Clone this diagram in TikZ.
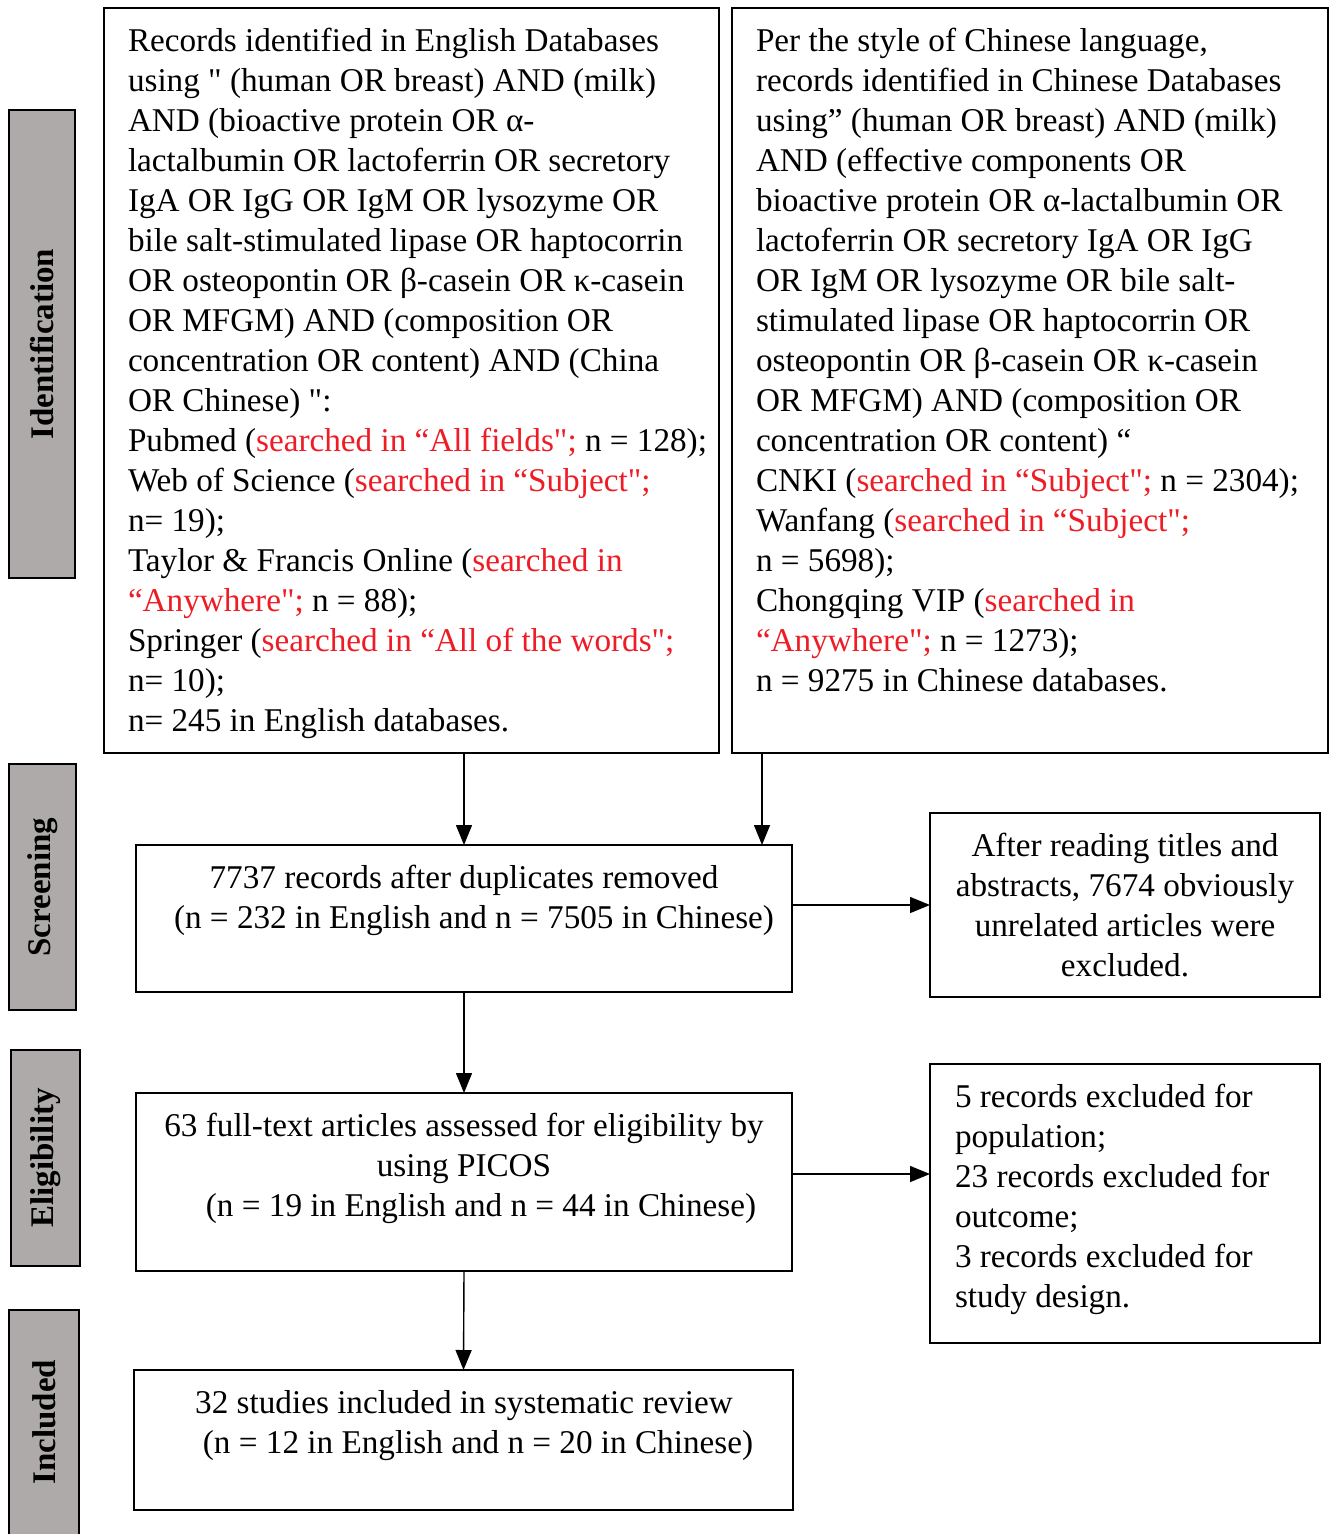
\documentclass[tikz,border=0pt]{standalone}
\usepackage{fontspec}
\setmainfont{Liberation Serif}[Ligatures=TeXOff]
\usetikzlibrary{arrows.meta}
\definecolor{redtxt}{HTML}{EE1C25}
\definecolor{lblgray}{HTML}{AEAAAA}
\newcommand{\rt}[1]{\textcolor{redtxt}{#1}}
\begin{document}
\begin{tikzpicture}[x=1pt,y=-1pt,
  box/.style={draw=black,line width=2pt,rectangle,inner sep=0pt,outer sep=0pt,anchor=north west},
  lbl/.style={draw=black,line width=2.2pt,fill=lblgray,rectangle,inner sep=0pt,outer sep=0pt,anchor=north west},
  lbltext/.style={rotate=90,font=\fontsize{33}{40}\selectfont\bfseries,inner sep=0pt},
  txt/.style={font=\fontsize{33.2}{40}\selectfont,inner sep=0pt,outer sep=0pt},
  arr/.style={line width=1.4pt,-{Triangle[length=20pt,width=16pt]}}
]
\useasboundingbox[fill=white] (0,0) rectangle (1330,1534);

% phase labels
\node[lbl,minimum width=66pt,minimum height=468pt] (lab1) at (9,110) {};
\node[lbl,minimum width=67pt,minimum height=246pt] (lab2) at (9,764) {};
\node[lbl,minimum width=69pt,minimum height=216pt] (lab3) at (11,1050) {};
\node[lbl,minimum width=70pt,minimum height=240pt] (lab4) at (9,1310) {};
\node[lbltext] (lab1t) at (lab1.center) {Identification};
\node[lbltext] (lab2t) at (lab2.center) {Screening};
\node[lbltext] (lab3t) at (lab3.center) {Eligibility};
\node[lbltext] (lab4t) at ([yshift=8pt]lab4.center) {Included};

% boxes
\node[box,minimum width=615pt,minimum height=745pt] (lid) at (104,8) {};
\node[box,minimum width=596pt,minimum height=745pt] (rid) at (732,8) {};
\node[box,minimum width=656pt,minimum height=147pt] (scr) at (136,845) {};
\node[box,minimum width=390pt,minimum height=184pt] (ex1) at (930,813) {};
\node[box,minimum width=656pt,minimum height=178pt] (elig) at (136,1093) {};
\node[box,minimum width=390pt,minimum height=279pt] (ex2) at (930,1064) {};
\node[box,minimum width=659pt,minimum height=140pt] (inc) at (134,1370) {};

% texts
\node[txt,anchor=north west,align=left] (lidt) at (128,23) {\strut Records identified in English Databases\\
using " (human OR breast) AND (milk)\\
AND (bioactive protein OR α-\\
lactalbumin OR lactoferrin OR secretory\\
IgA OR IgG OR IgM OR lysozyme OR\\
bile salt-stimulated lipase OR haptocorrin\\
OR osteopontin OR β-casein OR κ-casein\\
OR MFGM) AND (composition OR\\
concentration OR content) AND (China\\
OR Chinese) ":\\
Pubmed (\rt{searched in “All fields";} n = 128);\\
Web of Science (\rt{searched in “Subject";}\\
n= 19);\\
Taylor \& Francis Online (\rt{searched in}\\
\rt{“Anywhere";} n = 88);\\
Springer (\rt{searched in “All of the words";}\\
n= 10);\\
n= 245 in English databases.};

\node[txt,anchor=north west,align=left] (ridt) at (756,23) {\strut Per the style of Chinese language,\\
records identified in Chinese Databases\\
using” (human OR breast) AND (milk)\\
AND (effective components OR\\
bioactive protein OR α-lactalbumin OR\\
lactoferrin OR secretory IgA OR IgG\\
OR IgM OR lysozyme OR bile salt-\\
stimulated lipase OR haptocorrin OR\\
osteopontin OR β-casein OR κ-casein\\
OR MFGM) AND (composition OR\\
concentration OR content) “\\
CNKI (\rt{searched in “Subject";} n = 2304);\\
Wanfang (\rt{searched in “Subject";}\\
n = 5698);\\
Chongqing VIP (\rt{searched in}\\
\rt{“Anywhere";} n = 1273);\\
n = 9275 in Chinese databases.};

\node[txt,anchor=north,align=center] (scrt) at (464,860) {\strut 7737 records after duplicates removed\\
\hspace*{20pt}(n = 232 in English and n = 7505 in Chinese)};
\node[txt,anchor=north,align=center] (ex1t) at (1125,828) {\strut After reading titles and\\
abstracts, 7674 obviously\\
unrelated articles were\\
excluded.};
\node[txt,anchor=north,align=center] (eligt) at (464,1108) {\strut 63 full-text articles assessed for eligibility by\\
using PICOS\\
\hspace*{34pt}(n = 19 in English and n = 44 in Chinese)};
\node[txt,anchor=north west,align=left] (ex2t) at (955,1079) {\strut 5 records excluded for\\
population;\\
23 records excluded for\\
outcome;\\
3 records excluded for\\
study design.};
\node[txt,anchor=north,align=center] (inct) at (464,1385) {\strut 32 studies included in systematic review\\
\hspace*{28pt}(n = 12 in English and n = 20 in Chinese)};

% connectors
\coordinate (rdrop) at ([xshift=30pt]rid.south west);
\coordinate (eout) at ([yshift=8pt]elig.east);
\draw[arr] (lid.south -| scr.north) -- (scr.north);
\draw[arr] (rdrop) -- (rdrop |- scr.north);
\draw[arr] (scr.east |- ex1.west) -- (ex1.west);
\draw[arr] (scr.south) -- (elig.north);
\draw[arr] (eout) -- (eout -| ex2.west);
\draw[arr] (elig.south) -- (inc.north);
\end{tikzpicture}
\end{document}
